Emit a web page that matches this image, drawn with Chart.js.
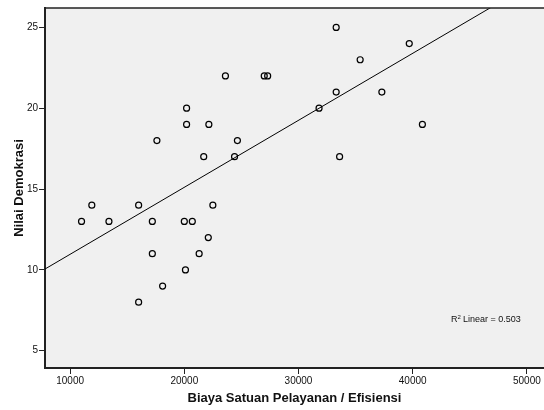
<!DOCTYPE html>
<html>
<head>
<meta charset="utf-8">
<script src="https://cdn.jsdelivr.net/npm/chart.js@4/dist/chart.umd.min.js"></script>
<style>
  html, body { margin: 0; padding: 0; background: #ffffff; }
  #wrap { width: 544px; height: 410px; }
</style>
</head>
<body>
<div id="wrap"><canvas id="c" width="544" height="410"></canvas></div>
<script>
// Data
const biaya = [11000, 11900, 13400, 16000, 16000, 17200, 17200, 17600, 18100, 20000,
               20100, 20200, 20200, 20700, 21300, 21700, 22100, 22150, 22500, 23600,
               24400, 24650, 27000, 27300, 31800, 33300, 33300, 33600, 35400, 37300,
               39700, 40850];
const demokrasi = [13, 14, 13, 14, 8, 13, 11, 18, 9, 13,
                   10, 19, 20, 13, 11, 17, 12, 19, 14, 22,
                   17, 18, 22, 22, 20, 25, 21, 17, 23, 21,
                   24, 19];
const xTickValues = [10000, 20000, 30000, 40000, 50000];
const yTickValues = [5, 10, 15, 20, 25];
const fitX = [7800, 51500];
const fitIntercept = 6.82;
const fitSlope = 0.0004144;
const r2Text = "0.503";

const points = biaya.map((x, i) => ({ x: x, y: demokrasi[i] }));
const fitPoints = fitX.map(x => ({ x: x, y: fitIntercept + fitSlope * x }));

const FONT = "'Liberation Sans', Arial, Helvetica, sans-serif";

const frame = {
  id: 'frame',
  beforeDraw(chart) {
    const { ctx, chartArea: a } = chart;
    ctx.save();
    ctx.fillStyle = '#f0f0f0';
    ctx.fillRect(a.left, a.top, a.right - a.left, a.bottom - a.top);
    ctx.restore();
  },
  afterDraw(chart) {
    const { ctx, chartArea: a } = chart;
    ctx.save();
    ctx.strokeStyle = '#222';
    ctx.lineWidth = 1.5;
    ctx.beginPath();
    ctx.moveTo(a.left, a.top);
    ctx.lineTo(a.right, a.top);
    ctx.stroke();
    // R² annotation
    const x = 451, y = 320;
    ctx.fillStyle = '#111';
    ctx.textBaseline = 'middle';
    ctx.textAlign = 'left';
    ctx.font = '9px ' + FONT;
    ctx.fillText('R', x, y);
    const w = ctx.measureText('R').width;
    ctx.font = '6px ' + FONT;
    ctx.fillText('2', x + w, y - 3);
    ctx.font = '9px ' + FONT;
    ctx.fillText(' Linear = ' + r2Text, x + w + 3, y);
    ctx.restore();
  }
};

new Chart(document.getElementById('c'), {
  type: 'scatter',
  data: {
    datasets: [
      {
        label: 'Data',
        data: points,
        pointStyle: 'circle',
        pointRadius: 3,
        pointHoverRadius: 3,
        borderColor: '#000',
        borderWidth: 1.2,
        backgroundColor: 'rgba(0,0,0,0)',
        showLine: false
      },
      {
        label: 'Fit',
        type: 'line',
        data: fitPoints,
        borderColor: '#000',
        borderWidth: 1,
        pointRadius: 0,
        fill: false,
        tension: 0
      }
    ]
  },
  plugins: [frame],
  options: {
    responsive: false,
    animation: false,
    layout: { autoPadding: false, padding: { top: 8, right: 0, left: 0, bottom: 0 } },
    plugins: {
      legend: { display: false },
      tooltip: { enabled: false },
      title: { display: false }
    },
    scales: {
      x: {
        type: 'linear',
        min: 7800,
        max: 51500,
        afterBuildTicks: s => { s.ticks = xTickValues.map(v => ({ value: v })); },
        afterFit: s => { s.height = 42; s.paddingLeft = 0; s.paddingRight = 0; },
        grid: { display: true, drawOnChartArea: false, drawTicks: true, tickLength: 6, color: '#222', lineWidth: 1 },
        border: { display: true, color: '#222', width: 2 },
        ticks: { font: { family: FONT, size: 10 }, color: '#111', padding: 1, maxRotation: 0, autoSkip: false, callback: v => String(v) },
        title: { display: true, text: 'Biaya Satuan Pelayanan / Efisiensi', font: { family: FONT, size: 13, weight: 'bold' }, color: '#111', padding: { top: 4, bottom: 4 } }
      },
      y: {
        type: 'linear',
        min: 3.93,
        max: 26.2,
        afterBuildTicks: s => { s.ticks = yTickValues.map(v => ({ value: v })); },
        afterFit: s => { s.width = 45; s.paddingTop = 0; s.paddingBottom = 0; },
        grid: { display: true, drawOnChartArea: false, drawTicks: true, tickLength: 6, color: '#222', lineWidth: 1 },
        border: { display: true, color: '#222', width: 2 },
        ticks: { font: { family: FONT, size: 10 }, color: '#111', padding: 1, autoSkip: false, callback: v => String(v) },
        title: { display: true, text: 'Nilai Demokrasi', font: { family: FONT, size: 13, weight: 'bold' }, color: '#111', padding: { top: 12, bottom: 12 } }
      }
    }
  }
});
</script>
</body>
</html>
